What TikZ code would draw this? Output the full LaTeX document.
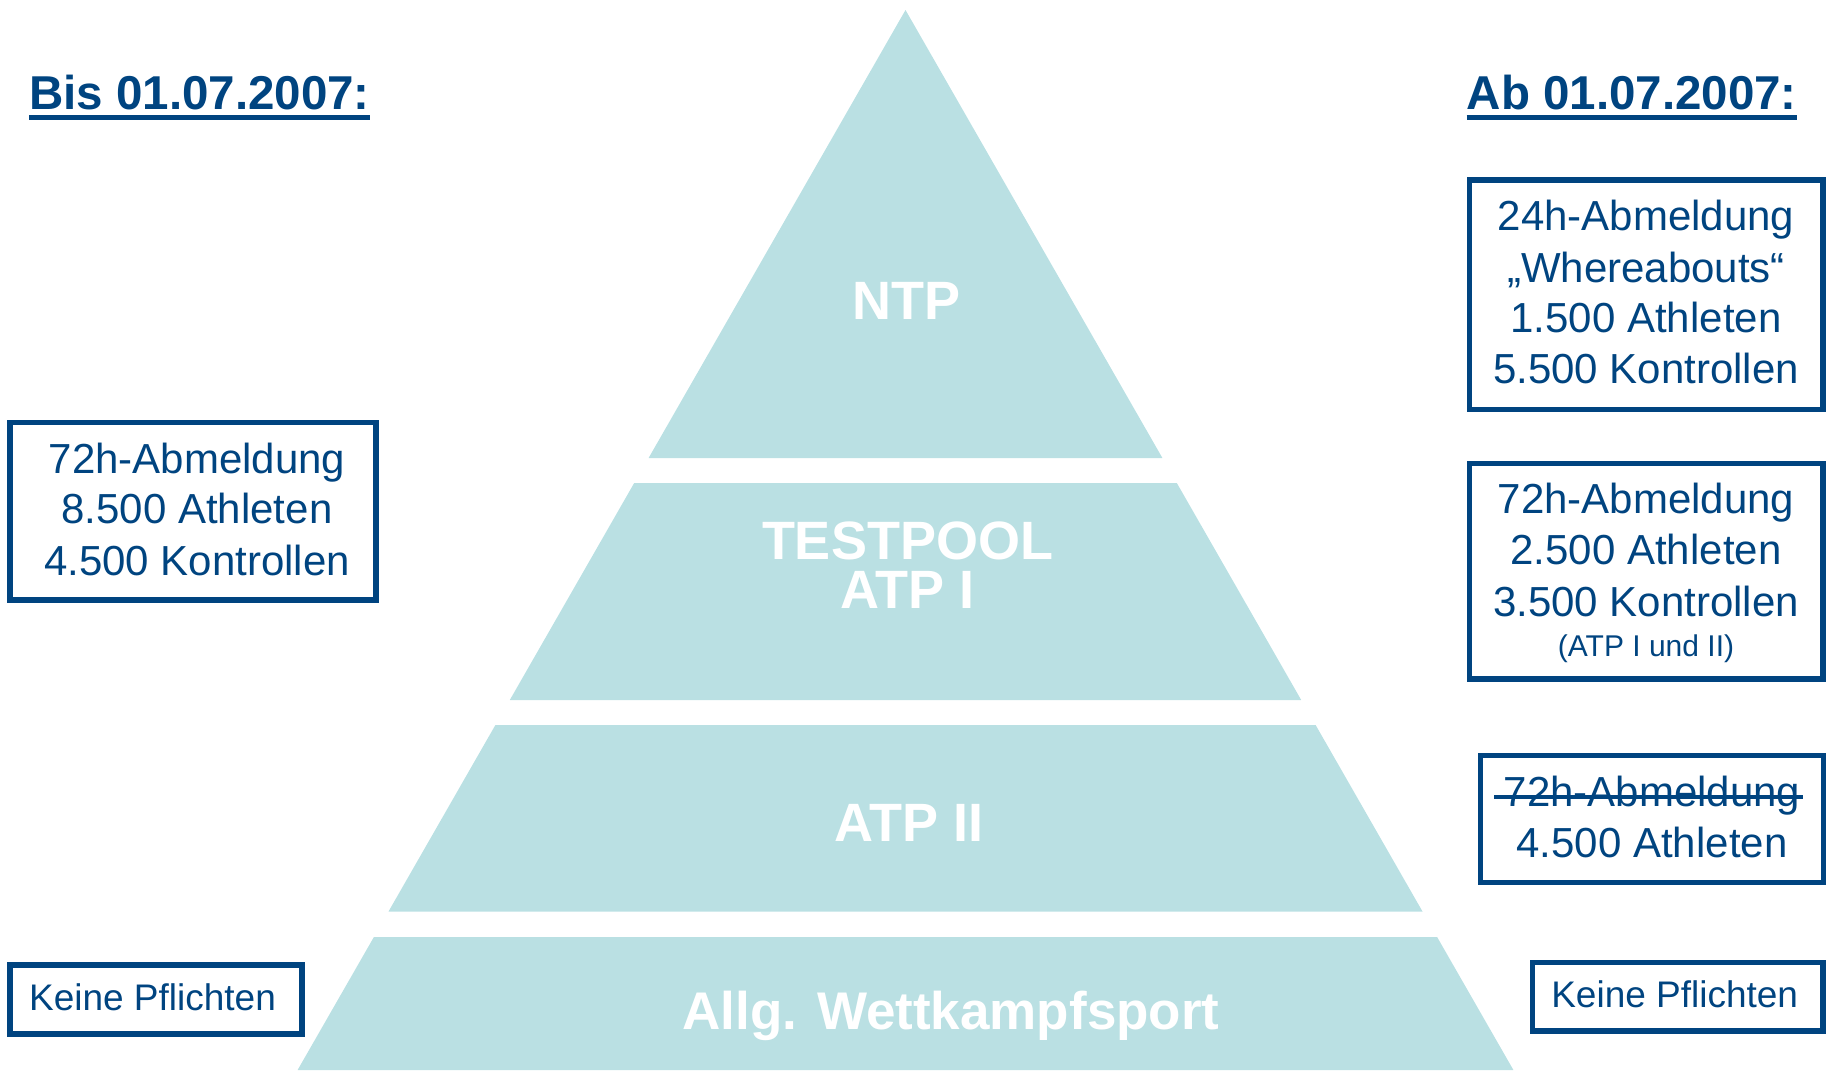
\documentclass[tikz,border=0pt]{standalone}
\usepackage{fontspec}
\setmainfont{Liberation Sans}
\definecolor{navy}{RGB}{0,68,128}
\definecolor{teal}{RGB}{186,224,227}
\begin{document}
\begin{tikzpicture}[x=1pt,y=-1pt,
  box/.style={draw=navy,line width=5.5pt,inner sep=0pt,fill=white},
  txt/.style={text=navy,inner sep=0pt,anchor=base,font=\fontsize{42}{50}\selectfont},
  smalltxt/.style={text=navy,inner sep=0pt,anchor=base,font=\fontsize{37}{44}\selectfont},
  tinytxt/.style={text=navy,inner sep=0pt,anchor=base,font=\fontsize{30}{36}\selectfont},
  head/.style={text=navy,inner sep=0pt,anchor=base west,font=\bfseries\fontsize{47.5}{58}\selectfont},
  lvl/.style={text=white,inner sep=0pt,anchor=base,font=\bfseries\fontsize{54}{60}\selectfont},
  band/.style={fill=teal,draw=none}]
\useasboundingbox (0,0) rectangle (1827,1071);
% pyramid bands
\fill[band] (905.5,10) -- (1162.4,458) -- (648.6,458) -- cycle;
\fill[band] (634.2,483) -- (1176.8,483) -- (1301.2,700) -- (509.8,700) -- cycle;
\fill[band] (495.4,725) -- (1315.6,725) -- (1422.5,911.5) -- (388.5,911.5) -- cycle;
\fill[band] (373.9,937) -- (1437.1,937) -- (1513.4,1070) -- (297.6,1070) -- cycle;
% level labels
\node[lvl] (ntp) at (906.5,319.6) {NTP};
\node[lvl,anchor=south,align=center,text depth=0pt,font=\bfseries\fontsize{54}{48.3}\selectfont] (testpool) at (907.5,608.3) {TESTPOOL\\ATP I};
\node[lvl] (atpii) at (909,841.6) {ATP II};
\node[lvl,font=\bfseries\fontsize{53}{60}\selectfont] (allg) at (951,1029.6) {Allg. Wettkampfsport};
% headers
\node[head] (bis) at (29,109.5) {Bis 01.07.2007:};
\draw[navy,line width=5pt] ([yshift=-7.5pt]bis.base west) -- ([yshift=-7.5pt]bis.base east);
\node[head] (ab) at (1466.5,109.5) {Ab 01.07.2007:};
\draw[navy,line width=5pt] ([yshift=-7.5pt]ab.base west) -- ([yshift=-7.5pt]ab.base east);
% left boxes
\node[box,minimum width=366pt,minimum height=177.5pt] (l1) at (192.75,511) {};
\node[txt] (l1a) at (197,473.5) {72h-Abmeldung};
\node[txt] (l1b) at (197,523.4) {8.500 Athleten};
\node[txt] (l1c) at (197,575) {4.500 Kontrollen};
\node[box,minimum width=292.1pt,minimum height=68.7pt] (l2) at (155.8,999.5) {};
\node[smalltxt] (l2a) at (152.5,1010.7) {Keine Pflichten};
% right boxes
\node[box,minimum width=353.5pt,minimum height=229.4pt] (r1) at (1646,294.75) {};
\node[txt] (r1a) at (1646,230.7) {24h-Abmeldung};
\node[txt] (r1b) at (1646,282.4) {„Whereabouts“};
\node[txt] (r1c) at (1646,332.3) {1.500 Athleten};
\node[txt] (r1d) at (1646,383.3) {5.500 Kontrollen};
\node[box,minimum width=353.5pt,minimum height=215.6pt] (r2) at (1646,571.25) {};
\node[txt] (r2a) at (1646,513) {72h-Abmeldung};
\node[txt] (r2b) at (1646,564.5) {2.500 Athleten};
\node[txt] (r2c) at (1646,616.3) {3.500 Kontrollen};
\node[tinytxt] (r2d) at (1646,656) {(ATP I und II)};
\node[box,minimum width=343pt,minimum height=127pt] (r3) at (1651.75,818.75) {};
\node[txt] (r3a) at (1652,806) {72h-Abmeldung};
\coordinate (s1) at (1494,797.3);
\coordinate (s2) at (1803,797.3);
\draw[navy,line width=4pt] (s1) -- (s2);
\node[txt] (r3b) at (1652,857.8) {4.500 Athleten};
\node[box,minimum width=290.2pt,minimum height=68.7pt] (r4) at (1677.65,996.7) {};
\node[smalltxt] (r4a) at (1674.7,1007.2) {Keine Pflichten};
\end{tikzpicture}
\end{document}
